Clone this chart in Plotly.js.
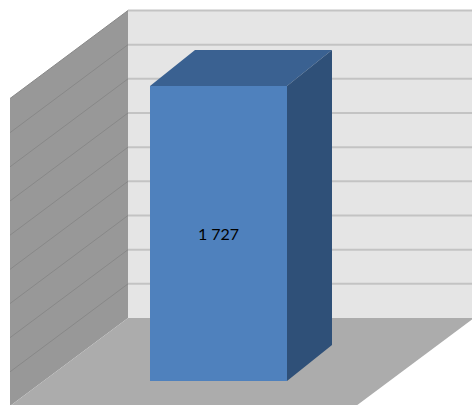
<!DOCTYPE html>
<html><head><meta charset="utf-8">
<script src="https://cdn.plot.ly/plotly-3.0.1.min.js"></script>
<style>html,body{margin:0;padding:0;background:#fff;}#chart{width:472px;height:405px;}</style>
</head><body><div id="chart"></div>
<script>
// ---- data ----
const categories = ['Série 1'];
const values = [1727];
const valueLabels = ['1 727'];
const axisMax = 1800;
const gridStep = 200;

// ---- layout geometry (oblique 3D projection) ----
const W = 472, H = 405;
const wallBaseY = 318, wallTopY = 10.5;
const pxPerUnit = (wallBaseY - wallTopY) / axisMax;
const depthDX = -118, depthDYpx = 88;
const depthDV = depthDYpx / pxPerUnit;
const wallLeft = 128, wallRight = 474;
const barFrontD = 63 / 88, barBackD = 27 / 88;
const barFrontLeft = 150, barWidth = 137;
const barDepthDX = -45; // bar's own depth slant (px)
const hCenter = barFrontLeft + barWidth / 2 - barFrontD * depthDX;
const hL = hCenter - barWidth / 2, hR = hCenter + barWidth / 2;

function P(h, v, d) { return [h + d * depthDX, v - d * depthDV]; }
function poly(pts) {
  const xs = [], ys = [];
  pts.forEach(p => { const q = P(p[0], p[1], p[2]); xs.push(q[0] + (p[3] || 0)); ys.push(q[1]); });
  xs.push(xs[0]); ys.push(ys[0]);
  return { x: xs, y: ys };
}
function fillTrace(pts, color, axes) {
  const p = poly(pts);
  return Object.assign({ type: 'scatter', mode: 'lines', x: p.x, y: p.y, fill: 'toself',
    fillcolor: color, line: { width: 0, color: color }, hoverinfo: 'skip' }, axes || {});
}

const traces = [];
// back wall, left wall, floor
traces.push(fillTrace([[wallLeft,0,0],[wallRight,0,0],[wallRight,axisMax,0],[wallLeft,axisMax,0]], '#e5e5e5'));
traces.push(fillTrace([[wallLeft,0,0],[wallLeft,axisMax,0],[wallLeft,axisMax,1],[wallLeft,0,1]], '#989898'));
traces.push(fillTrace([[wallLeft,0,0],[wallRight,0,0],[wallRight,0,1],[wallLeft,0,1]], '#acacac'));

// gridlines
const gbx = [], gby = [], glx = [], gly = [];
for (let g = gridStep; g <= axisMax; g += gridStep) {
  let a = P(wallLeft, g, 0), b = P(wallRight, g, 0);
  gbx.push(a[0], b[0], null); gby.push(a[1], b[1], null);
  let c = P(wallLeft, g, 1);
  glx.push(a[0], c[0], null); gly.push(a[1], c[1], null);
}
traces.push({ type: 'scatter', mode: 'lines', x: gbx, y: gby, line: { color: '#c3c3c3', width: 2 }, hoverinfo: 'skip' });
traces.push({ type: 'scatter', mode: 'lines', x: glx, y: gly, line: { color: '#888888', width: 1 }, hoverinfo: 'skip' });

// bar (overlay subplot so it sits above walls/floor)
const ov = { xaxis: 'x2', yaxis: 'y2' };
const fL = hL + barFrontD * depthDX, fR = hR + barFrontD * depthDX;
values.forEach((v, i) => {
  traces.push(Object.assign({
    type: 'bar', name: categories[i],
    x: [hCenter + barFrontD * depthDX], y: [v], base: [-barFrontD * depthDV], width: [barWidth],
    marker: { color: '#4f81bd', line: { width: 0 } },
    text: [valueLabels[i]], textposition: 'inside', insidetextanchor: 'middle', textangle: 0,
    textfont: { family: 'Lato, Open Sans, sans-serif', size: 16, color: '#000000' },
    constraintext: 'none', hoverinfo: 'skip'
  }, ov));
  // top and side faces: back edge = front edge shifted by bar depth
  const dvBar = (barFrontD - barBackD) * depthDV;
  const vf = v - barFrontD * depthDV, zf = -barFrontD * depthDV;
  traces.push(Object.assign({ type: 'scatter', mode: 'lines', fill: 'toself', fillcolor: '#3a6191',
    line: { width: 0, color: '#3a6191' }, hoverinfo: 'skip',
    x: [fL, fR, fR - barDepthDX, fL - barDepthDX, fL], y: [vf, vf, vf + dvBar, vf + dvBar, vf] }, ov));
  traces.push(Object.assign({ type: 'scatter', mode: 'lines', fill: 'toself', fillcolor: '#2f5078',
    line: { width: 0, color: '#2f5078' }, hoverinfo: 'skip',
    x: [fR, fR, fR - barDepthDX, fR - barDepthDX, fR], y: [zf, vf, vf + dvBar, zf + dvBar, zf] }, ov));
});

const xr = [0, W];
const yr = [(wallBaseY - H) / pxPerUnit, wallBaseY / pxPerUnit];
const ax = { range: xr, visible: false, fixedrange: true, showgrid: false, zeroline: false };
const ay = { range: yr, visible: false, fixedrange: true, showgrid: false, zeroline: false };
const layout = {
  width: W, height: H, margin: { l: 0, r: 0, t: 0, b: 0, pad: 0 },
  paper_bgcolor: '#ffffff', plot_bgcolor: 'rgba(0,0,0,0)', showlegend: false,
  xaxis: ax, yaxis: ay,
  xaxis2: Object.assign({}, ax, { overlaying: 'x' }),
  yaxis2: Object.assign({}, ay, { overlaying: 'y' }),
  hovermode: false
};
Plotly.newPlot('chart', traces, layout, { staticPlot: true, displayModeBar: false });
</script>
</body></html>
